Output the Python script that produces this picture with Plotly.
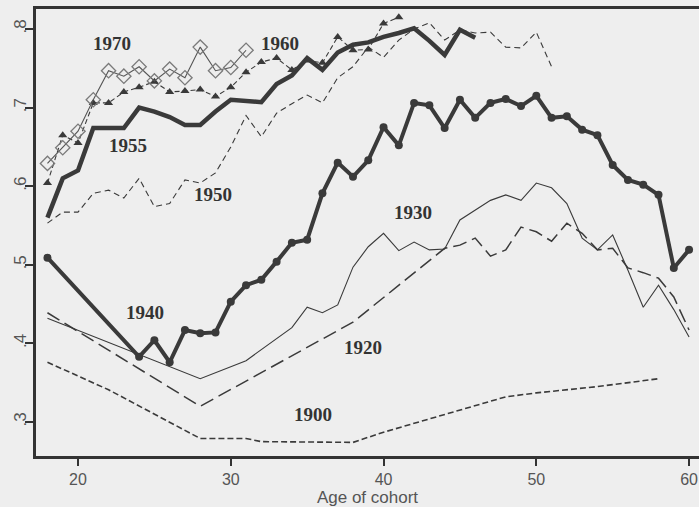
import plotly.graph_objects as go

# ---------------- data ----------------
age_1970 = list(range(18, 32))
val_1970 = [0.629, 0.649, 0.670, 0.710, 0.747, 0.740, 0.752, 0.734, 0.749, 0.738, 0.777, 0.747, 0.751, 0.773]

age_1960 = list(range(18, 42))
val_1960 = [0.604, 0.665, 0.655, 0.706, 0.706, 0.720, 0.726, 0.733, 0.720, 0.721, 0.723, 0.714,
            0.726, 0.745, 0.758, 0.763, 0.748, 0.760, 0.757, 0.790, 0.773, 0.774, 0.807, 0.815]

age_1955 = list(range(18, 47))
val_1955 = [0.560, 0.610, 0.620, 0.674, 0.674, 0.674, 0.700, 0.695, 0.688, 0.678, 0.678, 0.695,
            0.710, 0.708, 0.707, 0.730, 0.741, 0.763, 0.748, 0.770, 0.780, 0.783, 0.790, 0.795,
            0.801, 0.785, 0.767, 0.799, 0.789]

age_1950 = list(range(18, 52))
val_1950 = [0.553, 0.567, 0.567, 0.591, 0.595, 0.585, 0.610, 0.574, 0.578, 0.608, 0.604, 0.617,
            0.650, 0.690, 0.663, 0.693, 0.705, 0.716, 0.706, 0.738, 0.752, 0.777, 0.764, 0.786,
            0.800, 0.808, 0.786, 0.799, 0.795, 0.796, 0.777, 0.776, 0.796, 0.752]

age_1940 = [18] + list(range(24, 61))
val_1940 = [0.509, 0.383, 0.404, 0.376, 0.417, 0.413, 0.414, 0.453, 0.474, 0.481, 0.504, 0.528,
            0.532, 0.591, 0.630, 0.612, 0.633, 0.675, 0.652, 0.706, 0.703, 0.674, 0.710, 0.687,
            0.706, 0.711, 0.702, 0.715, 0.687, 0.689, 0.672, 0.665, 0.627, 0.608, 0.602, 0.589,
            0.496, 0.519]

age_1930 = [18, 28, 31] + list(range(34, 61))
val_1930 = [0.432, 0.355, 0.378, 0.420, 0.446, 0.439, 0.449, 0.497, 0.523, 0.540, 0.518, 0.529,
            0.519, 0.520, 0.557, 0.570, 0.582, 0.589, 0.582, 0.604, 0.598, 0.578, 0.534, 0.519,
            0.538, 0.493, 0.446, 0.474, 0.443, 0.408]

age_1920 = [18, 28, 38] + list(range(44, 61))
val_1920 = [0.439, 0.320, 0.427, 0.521, 0.525, 0.534, 0.511, 0.519, 0.548, 0.542, 0.530, 0.553,
            0.540, 0.519, 0.521, 0.496, 0.490, 0.483, 0.459, 0.417]

age_1900 = [18, 22, 28, 31, 32, 38, 40, 43, 46, 48, 50, 54, 58]
val_1900 = [0.376, 0.341, 0.279, 0.279, 0.275, 0.274, 0.287, 0.304, 0.320, 0.332, 0.337, 0.345, 0.355]

x_ticks = [20, 30, 40, 50, 60]
y_ticks = [0.3, 0.4, 0.5, 0.6, 0.7, 0.8]
y_tick_text = [".3", ".4", ".5", ".6", ".7", ".8"]
x_title = "Age of cohort"
cohort_labels = ["1970", "1960", "1955", "1950", "1940", "1930", "1920", "1900"]

# ---------------- figure ----------------
dark = "#3a3a3a"
bg = "#eeeeee"
fig = go.Figure()

fig.add_trace(go.Scatter(x=age_1950, y=val_1950, mode="lines",
                         line=dict(color=dark, width=1.1, dash="6px,4px")))
fig.add_trace(go.Scatter(x=age_1900, y=val_1900, mode="lines",
                         line=dict(color=dark, width=1.6, dash="6px,3px")))
fig.add_trace(go.Scatter(x=age_1920, y=val_1920, mode="lines",
                         line=dict(color=dark, width=1.5, dash="14px,6px")))
fig.add_trace(go.Scatter(x=age_1930, y=val_1930, mode="lines",
                         line=dict(color=dark, width=1.1)))
fig.add_trace(go.Scatter(x=age_1955, y=val_1955, mode="lines",
                         line=dict(color=dark, width=4.5)))
fig.add_trace(go.Scatter(x=age_1960, y=val_1960, mode="lines+markers",
                         line=dict(color=dark, width=1.1, dash="5px,3px"),
                         marker=dict(symbol="triangle-up", size=8, color=dark)))
fig.add_trace(go.Scatter(x=age_1970, y=val_1970, mode="lines+markers",
                         line=dict(color="#555555", width=1.1),
                         marker=dict(symbol="diamond-open", size=11, color="#7a7a7a",
                                     line=dict(width=1.3, color="#7a7a7a"))))
fig.add_trace(go.Scatter(x=age_1940, y=val_1940, mode="lines+markers",
                         line=dict(color=dark, width=4),
                         marker=dict(symbol="circle", size=8, color=dark)))

label_pos = [(22.23, 0.782), (33.23, 0.782), (23.27, 0.652), (28.84, 0.590),
             (24.39, 0.439), (41.94, 0.567), (38.66, 0.395), (35.39, 0.310)]
for txt, (lx, ly) in zip(cohort_labels, label_pos):
    fig.add_annotation(x=lx, y=ly, text="<b>" + txt + "</b>", showarrow=False,
                       font=dict(family="Liberation Serif", size=19, color="#333333"))

fig.update_layout(
    width=699, height=507,
    margin=dict(l=36, r=0, t=9, b=51),
    paper_bgcolor=bg, plot_bgcolor=bg,
    showlegend=False,
    font=dict(family="Liberation Sans", size=17, color="#555555"),
)
fig.update_xaxes(range=[17.25, 60.65], tickvals=x_ticks, ticks="outside", ticklen=7,
                 tickwidth=1.5, tickcolor="#333333", automargin=False,
                 tickfont=dict(size=16),
                 showline=True, linecolor="#333333", linewidth=2.5, mirror=True,
                 showgrid=False, zeroline=False,
                 title=dict(text=x_title, font=dict(size=17, color="#555555"), standoff=3))
fig.update_yaxes(range=[0.2567, 0.8255], tickvals=y_ticks, ticktext=y_tick_text,
                 tickangle=-90, ticks="outside", ticklen=8, tickwidth=1.5, tickcolor="#333333",
                 ticklabelstandoff=-8,
                 showline=True, linecolor="#333333", linewidth=2.5, automargin=False,
                 showgrid=False, zeroline=False)

fig.write_html(
    "out.html",
    config={"displayModeBar": False},
    post_script="document.body.style.margin='0';document.body.style.background='" + bg + "';",
)
